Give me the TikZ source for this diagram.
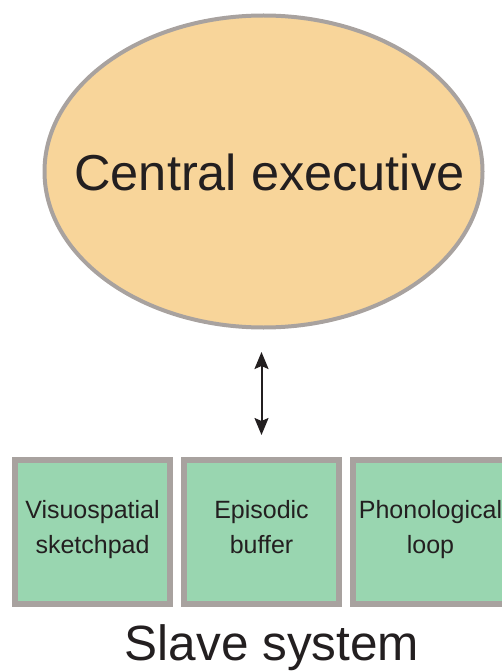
\documentclass[tikz,border=0pt]{standalone}
\usepackage{fontspec}
\setmainfont{Liberation Sans}
\usetikzlibrary{arrows.meta,positioning,shapes.geometric}
\definecolor{ringgray}{HTML}{A8A29F}
\definecolor{exefill}{HTML}{F8D59A}
\definecolor{slavefill}{HTML}{99D6B0}
\definecolor{inkblack}{HTML}{231F20}
\begin{document}
\begin{tikzpicture}[
    x=1pt,y=-1pt,
    exec/.style={
      ellipse,
      draw=ringgray,
      fill=exefill,
      line width=4pt,
      minimum width=438pt,
      minimum height=312pt,
      inner sep=0pt
    },
    slave/.style={
      rectangle,
      draw=ringgray,
      fill=slavefill,
      line width=6pt,
      minimum width=155pt,
      minimum height=144pt,
      align=center,
      text=inkblack,
      font=\fontsize{25}{35}\selectfont,
      execute at begin node=\strut,
      execute at end node=\strut
    },
    biglbl/.style={
      anchor=base,
      inner sep=0pt,
      text=inkblack,
      font=\fontsize{50.5}{60}\selectfont
    },
    link/.style={
      line width=2pt,
      draw=inkblack,
      {Stealth[length=17pt,width=14pt,inset=3pt]}-{Stealth[length=17pt,width=14pt,inset=3pt]}
    },
    node distance=8pt
  ]
  \useasboundingbox (0,0) rectangle (502,671);
  \clip (0,0) rectangle (502,671);
  \node[exec] (ce) at (263.5,171.5) {};
  \node[biglbl] (cetext) at (269.5,190) {Central executive};
  % slave system
  \node[slave] (vs) at (92.5,532) {Visuospatial\\sketchpad};
  \node[slave,right=of vs] (eb) {Episodic\\buffer};
  \node[slave,right=of eb] (pl) {Phonological\\loop};
  \node[biglbl,font=\fontsize{49.5}{60}\selectfont] (sstext) at (272,660) {Slave system};
  \draw[link,shorten <=22.5pt,shorten >=22pt] (ce.south -| eb.north) -- (eb.north);
\end{tikzpicture}
\end{document}
